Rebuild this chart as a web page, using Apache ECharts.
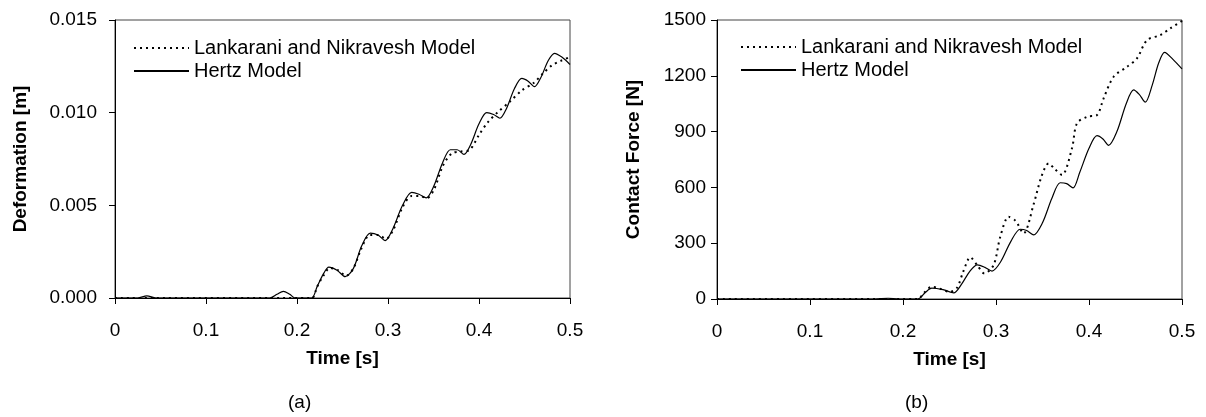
<!DOCTYPE html>
<html>
<head>
<meta charset="utf-8">
<script src="https://cdn.jsdelivr.net/npm/echarts@6/dist/echarts.min.js"></script>
<style>
html,body{margin:0;padding:0;background:#fff;}
#chart{width:1206px;height:417px;}
</style>
</head>
<body>
<div id="chart"></div>
<script>
// ---- data ----
const seriesNames = ['Lankarani and Nikravesh Model', 'Hertz Model'];
const xTickLabels = ['0', '0.1', '0.2', '0.3', '0.4', '0.5'];

// (a) Deformation [m]
const defHertzT = [0, 0.025, 0.035, 0.045, 0.17, 0.178, 0.185, 0.192, 0.198, 0.216, 0.222, 0.229, 0.235, 0.244, 0.253, 0.262, 0.271, 0.2805, 0.289, 0.297, 0.305, 0.316, 0.326, 0.334, 0.342, 0.35, 0.36, 0.3685, 0.376, 0.3835, 0.391, 0.4, 0.4085, 0.416, 0.423, 0.43, 0.439, 0.447, 0.454, 0.461, 0.468, 0.476, 0.483, 0.491, 0.5];
const defHertzV = [0, 0, 0.00012, 0, 0, 0.0002, 0.00036, 0.0002, 0, 0, 0.0006, 0.0013, 0.00167, 0.0015, 0.00115, 0.0016, 0.0028, 0.0035, 0.0034, 0.0031, 0.0037, 0.0050, 0.0057, 0.0056, 0.0054, 0.0060, 0.0073, 0.0080, 0.0080, 0.00775, 0.0083, 0.0094, 0.0100, 0.0099, 0.0097, 0.0102, 0.0113, 0.01185, 0.0117, 0.0114, 0.0119, 0.0128, 0.0132, 0.0130, 0.0126];
const defLNT = [0, 0.216, 0.222, 0.229, 0.236, 0.245, 0.254, 0.262, 0.271, 0.28, 0.289, 0.298, 0.306, 0.316, 0.326, 0.334, 0.343, 0.351, 0.36, 0.37, 0.38, 0.39, 0.4, 0.41, 0.42, 0.434, 0.447, 0.46, 0.47, 0.48, 0.49, 0.5];
const defLNV = [0, 0, 0.0006, 0.0012, 0.00162, 0.0015, 0.0012, 0.0016, 0.0027, 0.0034, 0.0034, 0.0032, 0.0037, 0.0049, 0.0055, 0.0055, 0.0054, 0.0059, 0.0071, 0.0078, 0.0079, 0.0080, 0.0088, 0.0095, 0.0100, 0.0106, 0.0112, 0.0116, 0.0121, 0.01255, 0.0128, 0.0130];

// (b) Contact Force [N]
const forceHertzT = [0, 0.17, 0.184, 0.195, 0.216, 0.224, 0.231, 0.243, 0.2545, 0.263, 0.272, 0.28, 0.288, 0.2957, 0.305, 0.316, 0.326, 0.333, 0.3405, 0.35, 0.36, 0.369, 0.376, 0.3828, 0.39, 0.4, 0.4086, 0.415, 0.421, 0.43, 0.44, 0.448, 0.454, 0.4605, 0.468, 0.475, 0.4813, 0.49, 0.5];
const forceHertzV = [0, 0, 4, 0, 0, 35, 58, 50, 33, 80, 150, 183, 170, 150, 200, 310, 375, 368, 345, 410, 540, 625, 620, 597, 680, 810, 878, 860, 826, 900, 1050, 1124, 1100, 1058, 1150, 1270, 1326, 1290, 1237];
const forceLNT = [0, 0.216, 0.222, 0.231, 0.24, 0.25, 0.258, 0.265, 0.2724, 0.28, 0.2874, 0.2975, 0.3046, 0.3136, 0.321, 0.3297, 0.3405, 0.349, 0.3566, 0.363, 0.371, 0.3817, 0.387, 0.398, 0.4086, 0.4157, 0.4265, 0.441, 0.4516, 0.4624, 0.4767, 0.4874, 0.5];
const forceLNV = [0, 0, 30, 66, 55, 39, 60, 150, 224, 180, 138, 183, 335, 442, 420, 353, 510, 660, 729, 700, 667, 810, 944, 980, 989, 1079, 1195, 1249, 1294, 1392, 1419, 1455, 1495];

// ---- chart ----
const FONT = 'Liberation Sans, Arial, sans-serif';
const zip = (t, v) => t.map((x, i) => [x, v[i]]);
const dottedStyle = { color: '#000', width: 2, type: [2, 4] };
const solidStyle = { color: '#000', width: 1.2, type: 'solid' };

function xAxisCfg(gridIndex) {
  return {
    type: 'value', gridIndex, min: 0, max: 0.5, interval: 0.1,
    name: 'Time [s]', nameLocation: 'middle', nameGap: 51,
    nameTextStyle: { fontFamily: FONT, fontSize: 19, fontWeight: 'bold', color: '#000' },
    axisLine: { show: true, onZero: false, lineStyle: { color: '#000', width: 1 } },
    axisTick: { show: true, inside: false, length: 6, lineStyle: { color: '#000' } },
    axisLabel: { fontFamily: FONT, fontSize: 19, color: '#000', margin: 23,
      formatter: v => xTickLabels[Math.round(v * 10)] },
    splitLine: { show: false }
  };
}

function legendCfg(left, top) {
  return {
    left, top, orient: 'vertical', itemWidth: 55, itemHeight: 14, itemGap: 3,
    data: seriesNames, selectedMode: false,
    itemStyle: { opacity: 0 },
    textStyle: { fontFamily: FONT, fontSize: 20, color: '#000', lineHeight: 20 }
  };
}

const chart = echarts.init(document.getElementById('chart'), null, { renderer: 'canvas' });
chart.setOption({
  backgroundColor: '#fff',
  animation: false,
  grid: [
    { left: 115, right: 636, top: 20, bottom: 119, show: true, borderColor: '#444', borderWidth: 1, containLabel: false },
    { left: 717, right: 24, top: 20, bottom: 118, show: true, borderColor: '#444', borderWidth: 1, containLabel: false }
  ],
  xAxis: [xAxisCfg(0), xAxisCfg(1)],
  yAxis: [
    {
      type: 'value', gridIndex: 0, min: 0, max: 0.015, interval: 0.005,
      name: 'Deformation [m]', nameLocation: 'middle', nameGap: 85, nameRotate: 90,
      nameTextStyle: { fontFamily: FONT, fontSize: 19, fontWeight: 'bold', color: '#000' },
      axisLine: { show: true, lineStyle: { color: '#000', width: 1 } },
      axisTick: { show: true, inside: false, length: 6, lineStyle: { color: '#000' } },
      axisLabel: { fontFamily: FONT, fontSize: 19, color: '#000', margin: 18, formatter: v => v.toFixed(3) },
      splitLine: { show: false }
    },
    {
      type: 'value', gridIndex: 1, min: 0, max: 1500, interval: 300,
      name: 'Contact Force [N]', nameLocation: 'middle', nameGap: 74, nameRotate: 90,
      nameTextStyle: { fontFamily: FONT, fontSize: 19, fontWeight: 'bold', color: '#000' },
      axisLine: { show: true, lineStyle: { color: '#000', width: 1 } },
      axisTick: { show: true, inside: false, length: 6, lineStyle: { color: '#000' } },
      axisLabel: { fontFamily: FONT, fontSize: 19, color: '#000', margin: 11, formatter: v => String(v) },
      splitLine: { show: false }
    }
  ],
  legend: [legendCfg(128, 33), legendCfg(735, 32)],
  graphic: [
    { type: 'text', left: 300 - 12, top: 393, style: { text: '(a)', font: '19px ' + FONT, fill: '#000' } },
    { type: 'text', left: 917 - 12, top: 393, style: { text: '(b)', font: '19px ' + FONT, fill: '#000' } }
  ],
  series: [
    { name: seriesNames[0], type: 'line', xAxisIndex: 0, yAxisIndex: 0, data: zip(defLNT, defLNV), smooth: 0.3, symbol: 'none', lineStyle: dottedStyle, itemStyle: { color: '#000' }, z: 3 },
    { name: seriesNames[1], type: 'line', xAxisIndex: 0, yAxisIndex: 0, data: zip(defHertzT, defHertzV), smooth: 0.3, symbol: 'none', lineStyle: solidStyle, itemStyle: { color: '#000' }, z: 2 },
    { name: seriesNames[0], type: 'line', xAxisIndex: 1, yAxisIndex: 1, data: zip(forceLNT, forceLNV), smooth: 0.3, symbol: 'none', lineStyle: dottedStyle, itemStyle: { color: '#000' }, z: 3 },
    { name: seriesNames[1], type: 'line', xAxisIndex: 1, yAxisIndex: 1, data: zip(forceHertzT, forceHertzV), smooth: 0.3, symbol: 'none', lineStyle: solidStyle, itemStyle: { color: '#000' }, z: 2 }
  ]
});
</script>
</body>
</html>
